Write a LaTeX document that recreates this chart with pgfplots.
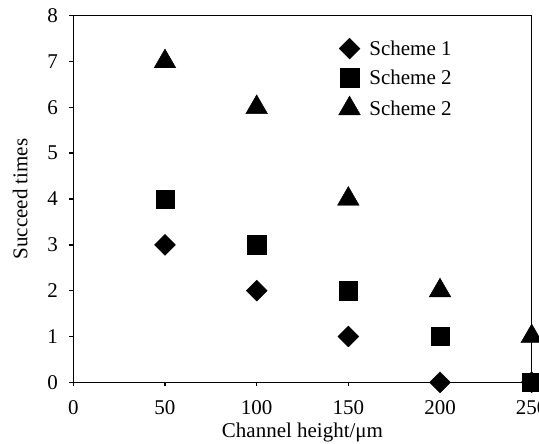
\documentclass[border=0pt]{standalone}
\usepackage{fontspec}
\setmainfont{Liberation Serif}
\usepackage{pgfplots}
\pgfplotsset{compat=1.18}
\begin{document}
\begin{tikzpicture}
\begin{axis}[
  at={(0pt,0pt)}, anchor=south west,
  scale only axis,
  width=458.4pt, height=366.6pt,
  xmin=0, xmax=250, ymin=0, ymax=8,
  xtick={0,50,100,150,200,250},
  ytick={0,1,2,3,4,5,6,7,8},
  tick align=outside, tick pos=left,
  major tick length=4pt,
  axis line style={line width=1.4pt},
  every tick/.style={line width=1.4pt, black},
  /pgf/number format/assume math mode=true,
  tick label style={font=\fontsize{21}{25}\selectfont},
  xticklabel style={yshift=-11pt},
  yticklabel style={xshift=-8pt},
  xlabel={Channel height/μm},
  ylabel={Succeed times},
  every axis x label/.style={at={(axis description cs:0.5,0)}, anchor=base, yshift=-55.7pt, font=\fontsize{21}{25}\selectfont},
  every axis y label/.style={at={(axis description cs:0,0.5)}, rotate=90, anchor=base, yshift=45.8pt, font=\fontsize{21}{25}\selectfont},
  clip=false,
  legend style={at={(0.572,0.945)}, anchor=north west, draw=none, fill=none,
    font=\fontsize{21}{25}\selectfont, row sep=8.5pt},
  legend cell align=left,
]
\addplot[only marks, mark=square*, mark size=7.4pt, mark options={rotate=45, fill=black, draw=black}] coordinates {(50,3) (100,2) (150,1) (200,0) (250,0)};
\addlegendentry{\hspace{7pt}Scheme 1}
\addplot[only marks, mark=square*, mark size=9.2pt, mark options={fill=black, draw=black}] coordinates {(50,4) (100,3) (150,2) (200,1) (250,0)};
\addlegendentry{\hspace{7pt}Scheme 2}
\addplot[only marks, mark=triangle*, mark size=12.5pt, mark options={fill=black, draw=black}] coordinates {(50,7) (100,6) (150,4) (200,2) (250,1)};
\addlegendentry{\hspace{7pt}Scheme 2}
\end{axis}
\pgfresetboundingbox
\path[use as bounding box] (-73.3pt,-61.7pt) rectangle (465.7pt,382.3pt);
\end{tikzpicture}
\end{document}
